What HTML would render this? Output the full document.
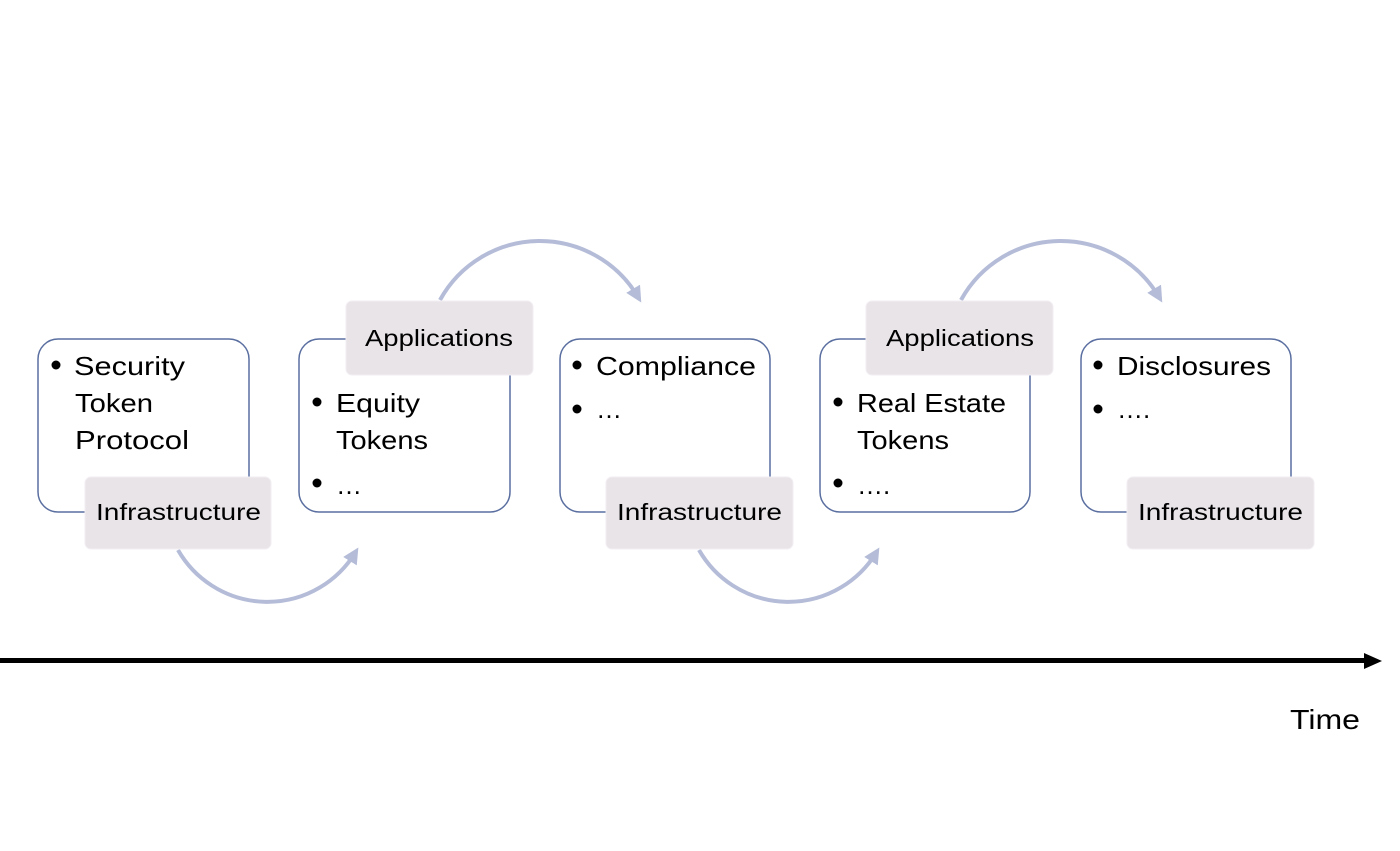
<!DOCTYPE html>
<html><head><meta charset="utf-8"><style>
html,body{margin:0;padding:0;background:#fff;}
svg{display:block;}
text{font-family:"Liberation Sans",sans-serif;fill:#000;}
</style></head><body>
<svg width="1400" height="851" viewBox="0 0 1400 851" xmlns="http://www.w3.org/2000/svg">
<defs>
<marker id="ah" viewBox="0 0 10 10" refX="6" refY="5" markerWidth="4" markerHeight="4" orient="auto">
<path d="M0,0 L10,5 L0,10 z" fill="#b4bcd8"/>
</marker>
</defs>
<g fill="none" stroke="#b4bcd8" stroke-width="4" marker-end="url(#ah)">
<path d="M178 550 A103 103 0 0 0 355 553"/>
<path d="M440 300 A114 114 0 0 1 638 297"/>
<path d="M699 550 A103 103 0 0 0 876 553"/>
<path d="M961 300 A114 114 0 0 1 1159 297"/>
</g>
<g fill="#fff" stroke="#5a6fa0" stroke-width="1.5">
<rect x="38" y="339" width="211" height="173" rx="20"/>
<rect x="299" y="339" width="211" height="173" rx="20"/>
<rect x="560" y="339" width="210" height="173" rx="20"/>
<rect x="820" y="339" width="210" height="173" rx="20"/>
<rect x="1081" y="339" width="210" height="173" rx="20"/>
</g>
<g fill="#e8e4e8" stroke="#f2eef2" stroke-width="1">
<rect x="85" y="477" width="186" height="72" rx="6"/>
<rect x="346" y="301" width="187" height="74" rx="6"/>
<rect x="606" y="477" width="187" height="72" rx="6"/>
<rect x="866" y="301" width="187" height="74" rx="6"/>
<rect x="1127" y="477" width="187" height="72" rx="6"/>
</g>
<g font-size="23">
<text x="96" y="520" textLength="165" lengthAdjust="spacingAndGlyphs">Infrastructure</text>
<text x="617" y="520" textLength="165" lengthAdjust="spacingAndGlyphs">Infrastructure</text>
<text x="1138" y="520" textLength="165" lengthAdjust="spacingAndGlyphs">Infrastructure</text>
<text x="365" y="346" textLength="148" lengthAdjust="spacingAndGlyphs">Applications</text>
<text x="886" y="346" textLength="148" lengthAdjust="spacingAndGlyphs">Applications</text>
</g>
<g fill="#000">
<circle cx="56" cy="365" r="4.5"/>
<circle cx="317" cy="402" r="4.5"/><circle cx="317" cy="483" r="4.5"/>
<circle cx="577" cy="365" r="4.5"/><circle cx="577" cy="409" r="4.5"/>
<circle cx="838" cy="402" r="4.5"/><circle cx="838" cy="483" r="4.5"/>
<circle cx="1098" cy="365" r="4.5"/><circle cx="1098" cy="409" r="4.5"/>
</g>
<g font-size="26">
<text x="74" y="375" textLength="111" lengthAdjust="spacingAndGlyphs">Security</text>
<text x="75" y="412" textLength="78" lengthAdjust="spacingAndGlyphs">Token</text>
<text x="75" y="449" textLength="114" lengthAdjust="spacingAndGlyphs">Protocol</text>
<text x="336" y="412" textLength="84" lengthAdjust="spacingAndGlyphs">Equity</text>
<text x="336" y="449" textLength="92" lengthAdjust="spacingAndGlyphs">Tokens</text>
<text x="336" y="494">…</text>
<text x="596" y="375" textLength="160" lengthAdjust="spacingAndGlyphs">Compliance</text>
<text x="596" y="418">…</text>
<text x="857" y="412" textLength="149" lengthAdjust="spacingAndGlyphs">Real Estate</text>
<text x="857" y="449" textLength="92" lengthAdjust="spacingAndGlyphs">Tokens</text>
<text x="857" y="494">….</text>
<text x="1117" y="375" textLength="154" lengthAdjust="spacingAndGlyphs">Disclosures</text>
<text x="1117" y="418">….</text>
</g>
<rect x="0" y="658" width="1368" height="5" fill="#000"/>
<path d="M1364 653 L1382 661 L1364 669 z" fill="#000"/>
<text x="1290" y="729" font-size="28" textLength="70" lengthAdjust="spacingAndGlyphs">Time</text>
</svg>
</body></html>
